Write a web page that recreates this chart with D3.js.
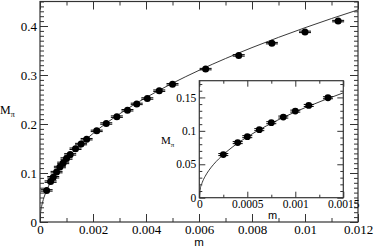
<!DOCTYPE html>
<html>
<head>
<meta charset="utf-8">
<script src="https://cdn.jsdelivr.net/npm/d3@7"></script>
<style>
  html, body { margin: 0; padding: 0; background: #fff; }
  svg { display: block; }
</style>
</head>
<body>
<svg id="chart" width="374" height="247"></svg>
<script>
// data points (quark mass m, pion mass M_pi)
const mVals = [0.00025, 0.0004, 0.0005, 0.000625, 0.00075, 0.000875, 0.001, 0.00114, 0.00134,
  0.00155, 0.00176, 0.00214, 0.0025, 0.0029, 0.0033, 0.00365, 0.00405, 0.0045, 0.005,
  0.00625, 0.0075, 0.00875, 0.01, 0.01125];
const mpiVals = [0.0645, 0.0824, 0.0913, 0.1018, 0.1122, 0.1206, 0.1295, 0.138, 0.1495,
  0.159, 0.169, 0.186, 0.201, 0.215, 0.228, 0.241, 0.252, 0.268, 0.281,
  0.312, 0.340, 0.365, 0.388, 0.410];
const mpiErr = [0.0015, 0.0015, 0.0015, 0.0015, 0.0015, 0.0015, 0.0015, 0.0015, 0.0015,
  0.0015, 0.0015, 0.0015, 0.0015, 0.0015, 0.0015, 0.0015, 0.0015, 0.0015, 0.0015,
  0.0015, 0.0015, 0.0015, 0.0015, 0.0015];

// fit curve
const fitM = [0, 0.00001, 0.00003, 0.00006, 0.0001, 0.00015, 0.0002, 0.0003, 0.0004, 0.0005,
  0.0007, 0.0009, 0.0011, 0.0013, 0.0015, 0.002, 0.003, 0.004, 0.005, 0.006, 0.007,
  0.008, 0.009, 0.01, 0.011, 0.012];
const fitMpi = [0, 0.0130, 0.0225, 0.0317, 0.0409, 0.0500, 0.0577, 0.0706, 0.0815, 0.0910,
  0.1075, 0.1218, 0.1345, 0.1461, 0.1568, 0.1807, 0.2205, 0.2539, 0.2832, 0.3095, 0.3336,
  0.3559, 0.3768, 0.3965, 0.4152, 0.4329];

// ticks
const mainXTicks = [0, 0.002, 0.004, 0.006, 0.008, 0.01, 0.012];
const mainYTicks = [0, 0.1, 0.2, 0.3, 0.4];
const insetXTicks = [0, 0.0005, 0.001, 0.0015];
const insetYTicks = [0, 0.05, 0.1, 0.15];

const SERIF = '"Liberation Serif", "DejaVu Serif", serif';
const SANS = '"Liberation Sans", Arial, sans-serif';

const svg = d3.select('#chart');
const points = mVals.map((m, i) => ({ m, y: mpiVals[i], e: mpiErr[i] }));
const fit = fitM.map((m, i) => ({ m, y: fitMpi[i] }));

function drawPanel(g, opt) {
  const { x0, x1, y0, y1, xDomain, yDomain, xTicks, yTicks, xMinor, yMinor,
    major, minor, fontSize, capW, r } = opt;
  const x = d3.scaleLinear().domain(xDomain).range([x0, x1]);
  const y = d3.scaleLinear().domain(yDomain).range([y0, y1]);

  g.append('rect')
    .attr('x', x0).attr('y', y1)
    .attr('width', x1 - x0).attr('height', y0 - y1)
    .attr('fill', '#fff');

  const clipId = 'clip' + Math.round(x0);
  g.append('clipPath').attr('id', clipId)
    .append('rect')
    .attr('x', x0).attr('y', y1)
    .attr('width', x1 - x0).attr('height', y0 - y1);

  const plot = g.append('g').attr('clip-path', `url(#${clipId})`);

  // fit line
  plot.append('path')
    .datum(fit.filter(d => d.m <= xDomain[1] * 1.08))
    .attr('fill', 'none')
    .attr('stroke', '#222')
    .attr('stroke-width', 0.9)
    .attr('d', d3.line().x(d => x(d.m)).y(d => y(d.y)).curve(d3.curveMonotoneX));

  const vis = points.filter(d => d.m <= xDomain[1]);

  // error bars with caps
  const eb = plot.selectAll('.eb').data(vis).enter().append('g').attr('class', 'eb');
  eb.append('line')
    .attr('x1', d => x(d.m)).attr('x2', d => x(d.m))
    .attr('y1', d => y(d.y - d.e)).attr('y2', d => y(d.y + d.e))
    .attr('stroke', '#000').attr('stroke-width', 1);
  [-1, 1].forEach(s => {
    eb.append('line')
      .attr('x1', d => x(d.m) - capW / 2).attr('x2', d => x(d.m) + capW / 2)
      .attr('y1', d => y(d.y + s * d.e)).attr('y2', d => y(d.y + s * d.e))
      .attr('stroke', '#000').attr('stroke-width', 1);
  });

  plot.selectAll('.dot').data(vis).enter().append('circle')
    .attr('class', 'dot')
    .attr('cx', d => x(d.m))
    .attr('cy', d => y(d.y))
    .attr('r', r)
    .attr('fill', '#000');

  const fmt = d => String(d);
  const styleText = a => a.selectAll('text')
    .attr('font-size', fontSize)
    .attr('font-family', SERIF)
    .attr('fill', '#000');

  // bottom
  g.append('g').attr('transform', `translate(0,${y0})`)
    .call(d3.axisBottom(x).tickValues(xTicks).tickSize(-major).tickPadding(2.5).tickFormat(fmt))
    .call(styleText);
  g.append('g').attr('transform', `translate(0,${y0})`)
    .call(d3.axisBottom(x).tickValues(xMinor).tickSize(-minor).tickFormat(''));
  // top
  g.append('g').attr('transform', `translate(0,${y1})`)
    .call(d3.axisTop(x).tickValues(xTicks).tickSize(-major).tickFormat(''));
  g.append('g').attr('transform', `translate(0,${y1})`)
    .call(d3.axisTop(x).tickValues(xMinor).tickSize(-minor).tickFormat(''));
  // left
  g.append('g').attr('transform', `translate(${x0},0)`)
    .call(d3.axisLeft(y).tickValues(yTicks).tickSize(-major).tickPadding(3).tickFormat(fmt))
    .call(styleText);
  g.append('g').attr('transform', `translate(${x0},0)`)
    .call(d3.axisLeft(y).tickValues(yMinor).tickSize(-minor).tickFormat(''));
  // right
  g.append('g').attr('transform', `translate(${x1},0)`)
    .call(d3.axisRight(y).tickValues(yTicks).tickSize(-major).tickFormat(''));
  g.append('g').attr('transform', `translate(${x1},0)`)
    .call(d3.axisRight(y).tickValues(yMinor).tickSize(-minor).tickFormat(''));

  g.selectAll('.domain').remove();
  g.selectAll('.tick line').attr('stroke', '#333');

  g.append('rect')
    .attr('x', x0).attr('y', y1)
    .attr('width', x1 - x0).attr('height', y0 - y1)
    .attr('fill', 'none')
    .attr('stroke', '#333')
    .attr('stroke-width', 1.2);

  return { x, y };
}

const range = (a, b, s) => d3.range(Math.round((b - a) / s) + 1).map(i => +(a + i * s).toFixed(6));

// main panel
const main = svg.append('g');
drawPanel(main, {
  x0: 40, x1: 358, y0: 222, y1: 1.5,
  xDomain: [0, 0.012], yDomain: [0, 0.45],
  xTicks: mainXTicks, yTicks: mainYTicks,
  xMinor: range(0, 0.012, 0.001).filter(v => !mainXTicks.includes(v)),
  yMinor: range(0, 0.45, 0.01).filter(v => !mainYTicks.some(t => Math.abs(t - v) < 1e-9)),
  major: 8, minor: 4, fontSize: 13, capW: 12, r: 3.5
});

main.append('text')
  .attr('x', 199).attr('y', 246)
  .attr('text-anchor', 'middle')
  .attr('font-family', SANS)
  .attr('font-size', 11.5)
  .text('m');

const mLab = main.append('text')
  .attr('x', 0).attr('y', 114)
  .attr('font-family', SERIF)
  .attr('font-size', 12);
mLab.append('tspan').text('M');
mLab.append('tspan').attr('font-size', 8).attr('dy', 3).text('π');

// inset panel
const inset = svg.append('g');
drawPanel(inset, {
  x0: 199.3, x1: 343.3, y0: 197.7, y1: 80.7,
  xDomain: [0, 0.0015], yDomain: [0, 0.175],
  xTicks: insetXTicks, yTicks: insetYTicks,
  xMinor: range(0, 0.0015, 0.00025).filter(v => !insetXTicks.some(t => Math.abs(t - v) < 1e-9)),
  yMinor: range(0, 0.17, 0.01).filter(v => !insetYTicks.some(t => Math.abs(t - v) < 1e-9)),
  major: 6, minor: 3, fontSize: 11.5, capW: 10, r: 3.4
});

inset.append('text')
  .attr('x', 272.7).attr('y', 219)
  .attr('text-anchor', 'middle')
  .attr('font-family', SANS)
  .attr('font-size', 11)
  .text('m');

const iLab = inset.append('text')
  .attr('x', 161).attr('y', 144)
  .attr('font-family', SERIF)
  .attr('font-size', 11);
iLab.append('tspan').text('M');
iLab.append('tspan').attr('font-size', 7).attr('dy', 3).text('π');
</script>
</body>
</html>
